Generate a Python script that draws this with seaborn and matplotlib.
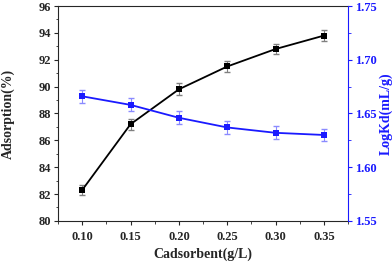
import matplotlib
matplotlib.use("Agg")
import matplotlib.pyplot as plt
import seaborn as sns
import pandas as pd
from matplotlib.ticker import MultipleLocator

# 데이터
dose = [0.10, 0.15, 0.20, 0.25, 0.30, 0.35]
adsorption = [82.3, 87.2, 89.8, 91.5, 92.8, 93.8]
adsorption_err = [0.4, 0.4, 0.45, 0.4, 0.4, 0.4]
logkd = [1.666, 1.658, 1.646, 1.637, 1.632, 1.630]
logkd_err = [0.006, 0.006, 0.006, 0.006, 0.006, 0.006]

df = pd.DataFrame({"dose": dose, "ads": adsorption, "kd": logkd})

sns.set_style("ticks")
plt.rcParams["font.family"] = ["Liberation Serif", "DejaVu Serif"]
plt.rcParams["font.weight"] = "bold"

fig, ax = plt.subplots(figsize=(3.92, 2.63), dpi=100)
fig.subplots_adjust(left=0.148, right=0.888, bottom=0.16, top=0.977)
ax2 = ax.twinx()

ax.errorbar(dose, adsorption, yerr=adsorption_err, fmt="none", ecolor="#808080",
            elinewidth=0.8, capsize=2, zorder=2)
sns.lineplot(data=df, x="dose", y="ads", ax=ax, color="black", marker="s",
             markersize=5, markeredgewidth=0, linewidth=1.3, zorder=3)

ax2.errorbar(dose, logkd, yerr=logkd_err, fmt="none", ecolor="#8a8aff",
             elinewidth=0.8, capsize=2, zorder=2)
sns.lineplot(data=df, x="dose", y="kd", ax=ax2, color="#1a1aff", marker="s",
             markersize=5, markeredgewidth=0, linewidth=1.3, zorder=3)

ax.set_xlim(0.075, 0.375)
ax.set_ylim(80, 96)
ax2.set_ylim(1.55, 1.75)
ax.set_xticks(dose)
ax.set_xticklabels([f"{v:.2f}" for v in dose])
ax.xaxis.set_minor_locator(MultipleLocator(0.025))
ax.yaxis.set_major_locator(MultipleLocator(2))
ax.yaxis.set_minor_locator(MultipleLocator(1))
ax2.set_yticks([1.55, 1.60, 1.65, 1.70, 1.75])
ax2.set_yticklabels(["1.55", "1.60", "1.65", "1.70", "1.75"])
ax2.yaxis.set_minor_locator(MultipleLocator(0.025))

ax.set_xlabel("Cadsorbent(g/L)", fontsize=10, fontweight="bold")
ax.set_ylabel("Adsorption(%)", fontsize=10, fontweight="bold")
ax2.set_ylabel("LogKd(mL/g)", fontsize=10, fontweight="bold", color="#1a1aff")
ax.xaxis.set_label_coords(0.5, -0.125)
ax.yaxis.set_label_coords(-0.148, 0.5)
ax2.yaxis.set_label_coords(1.108, 0.5)

for a in (ax, ax2):
    a.tick_params(which="major", direction="out", length=3, width=0.8,
                  labelsize=9, pad=2)
    a.tick_params(which="minor", direction="out", length=1.8, width=0.6)
    for lab in a.get_xticklabels() + a.get_yticklabels():
        lab.set_fontweight("bold")
ax.tick_params(axis="x", pad=4)
ax2.tick_params(axis="y", which="both", colors="#1a1aff")
ax2.spines["right"].set_color("#1a1aff")
ax.spines["right"].set_visible(False)
ax2.spines["left"].set_visible(False)
ax2.spines["top"].set_visible(False)
ax2.spines["bottom"].set_visible(False)
ax.tick_params(top=False)

plt.savefig("out.png", dpi=100)
plt.close()
